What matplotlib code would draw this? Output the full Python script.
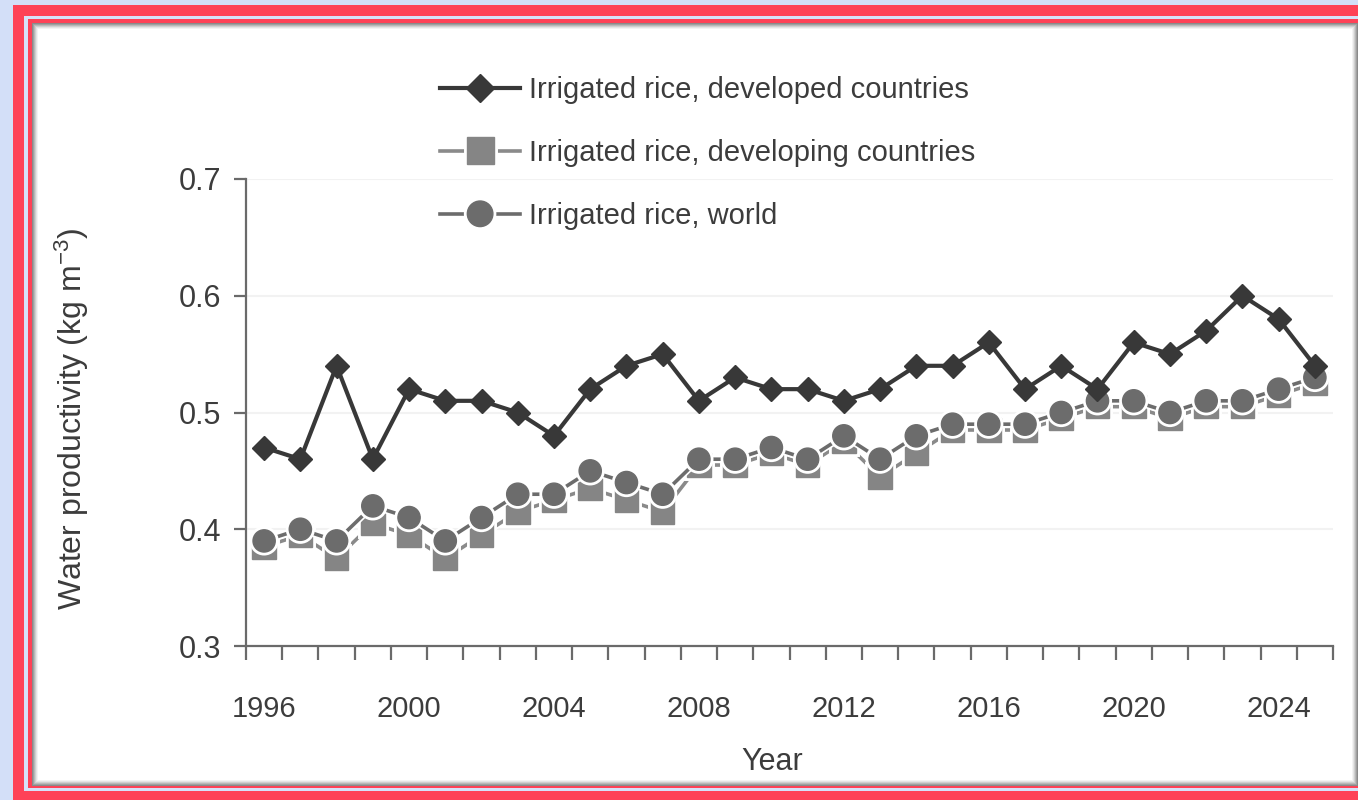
import matplotlib
matplotlib.use("Agg")
import matplotlib.pyplot as plt
from matplotlib.patches import Rectangle
import matplotlib.patheffects as pe

# ---- data -------------------------------------------------------------
years = list(range(1996, 2026))
developed = [0.47, 0.46, 0.54, 0.46, 0.52, 0.51, 0.51, 0.50, 0.48, 0.52,
             0.54, 0.55, 0.51, 0.53, 0.52, 0.52, 0.51, 0.52, 0.54, 0.54,
             0.56, 0.52, 0.54, 0.52, 0.56, 0.55, 0.57, 0.60, 0.58, 0.54]
developing = [0.385, 0.395, 0.375, 0.405, 0.395, 0.375, 0.395, 0.415, 0.425, 0.435,
              0.425, 0.415, 0.455, 0.455, 0.465, 0.455, 0.475, 0.445, 0.465, 0.485,
              0.485, 0.485, 0.495, 0.505, 0.505, 0.495, 0.505, 0.505, 0.515, 0.525]
world = [0.39, 0.40, 0.39, 0.42, 0.41, 0.39, 0.41, 0.43, 0.43, 0.45,
         0.44, 0.43, 0.46, 0.46, 0.47, 0.46, 0.48, 0.46, 0.48, 0.49,
         0.49, 0.49, 0.50, 0.51, 0.51, 0.50, 0.51, 0.51, 0.52, 0.53]
labels = ["Irrigated rice, developed countries",
          "Irrigated rice, developing countries",
          "Irrigated rice, world"]
year_ticks = [1996, 2000, 2004, 2008, 2012, 2016, 2020, 2024]
value_ticks = [0.3, 0.4, 0.5, 0.6, 0.7]

plt.rcParams["font.family"] = ["Liberation Sans", "DejaVu Sans"]
plt.rcParams["mathtext.fontset"] = "custom"
plt.rcParams["mathtext.rm"] = "Liberation Sans"
plt.rcParams["mathtext.default"] = "regular"
TXT = "#3c3c3c"
FS = 21

W, H = 1358, 800
fig = plt.figure(figsize=(W / 100, H / 100), dpi=100)
fig.patch.set_facecolor("#d3dff8")


def box(x0, y0, x1, y1, color, z=0):
    fig.add_artist(Rectangle((x0 / W, 1 - y1 / H), (x1 - x0) / W, (y1 - y0) / H,
                             transform=fig.transFigure, facecolor=color,
                             edgecolor="none", zorder=z))


# framed panel
box(13, 5, W + 20, H + 20, "#fe4257", -10)
box(24, 16, W + 20, 791, "#d6e2f9", -9)
box(28, 19, W + 20, 788, "#fe4257", -8)
shade = ["#8a8a8a", "#a0a0a0", "#b8b8b8", "#cfcfcf", "#e4e4e4", "#f3f3f3"]
for i, c in enumerate(shade):
    box(32 + i, 23 + i, W - i, 786 - i, c, -7 + i * 0.1)
box(38, 29, W - 6, 780, "white", -6)

# ---- axes ---------------------------------------------------------------
ax = fig.add_axes([246 / W, 1 - 646 / H, (1333 - 246) / W, (646 - 179) / H])
ax.set_facecolor("none")
ax.set_xlim(1995.5, 2025.5)
ax.set_ylim(0.3, 0.7)

for v in value_ticks[1:]:
    ax.axhline(v, color="#f2f2f2", lw=1.5, zorder=0)

white_edge = [pe.Stroke(linewidth=5.0, foreground="white"), pe.Normal()]
ax.plot(years, developing, color="#8a8a8a", lw=2.6, marker="s", ms=17,
        mfc="#858585", mec="#858585", label=labels[1], zorder=3,
        path_effects=white_edge)
ax.plot(years, world, color="#6c6c6c", lw=2.6, marker="o", ms=16,
        mfc="#6c6c6c", mec="#6c6c6c", label=labels[2], zorder=4,
        path_effects=white_edge)
ax.plot(years, developed, color="#383838", lw=3, marker="D", ms=12,
        mfc="#383838", mec="#383838", label=labels[0], zorder=5)

for s in ["top", "right"]:
    ax.spines[s].set_visible(False)
for s in ["left", "bottom"]:
    ax.spines[s].set_color("#6a6a6a")
    ax.spines[s].set_linewidth(1.6)

ax.set_yticks(value_ticks)
ax.set_yticklabels([f"{v:.1f}" for v in value_ticks])
ax.tick_params(axis="y", direction="out", length=9, width=1.6, color="#6a6a6a",
               pad=9, labelsize=FS + 1, labelcolor=TXT)

ax.set_xticks([y - 0.5 for y in range(1996, 2027)])
ax.set_xticklabels([])
ax.tick_params(axis="x", which="major", direction="out", length=10, width=1.6,
               color="#6a6a6a")
ax.set_xticks(year_ticks, minor=True)
ax.set_xticklabels([str(y) for y in year_ticks], minor=True)
ax.tick_params(axis="x", which="minor", length=0, pad=35, labelsize=FS,
               labelcolor=TXT)

fig.text(72 / W, 1 - 419 / H, "Water productivity (kg m$^{-3}$)", rotation=90,
         ha="center", va="center", fontsize=FS + 2, color=TXT)
fig.text(772 / W, 1 - 762 / H, "Year", ha="center", va="center",
         fontsize=FS + 1, color=TXT)

h, l = ax.get_legend_handles_labels()
order = [2, 0, 1]
leg = ax.legend([h[i] for i in order], [l[i] for i in order],
                loc="upper left", bbox_to_anchor=(440 / W, 1 - 76 / H),
                bbox_transform=fig.transFigure, frameon=False,
                fontsize=FS, handlelength=2.75, handletextpad=0.3,
                labelspacing=1.2, borderpad=0, borderaxespad=0,
                markerscale=1.15)
for t in leg.get_texts():
    t.set_color(TXT)

fig.savefig("out.png", dpi=100, facecolor=fig.get_facecolor())
